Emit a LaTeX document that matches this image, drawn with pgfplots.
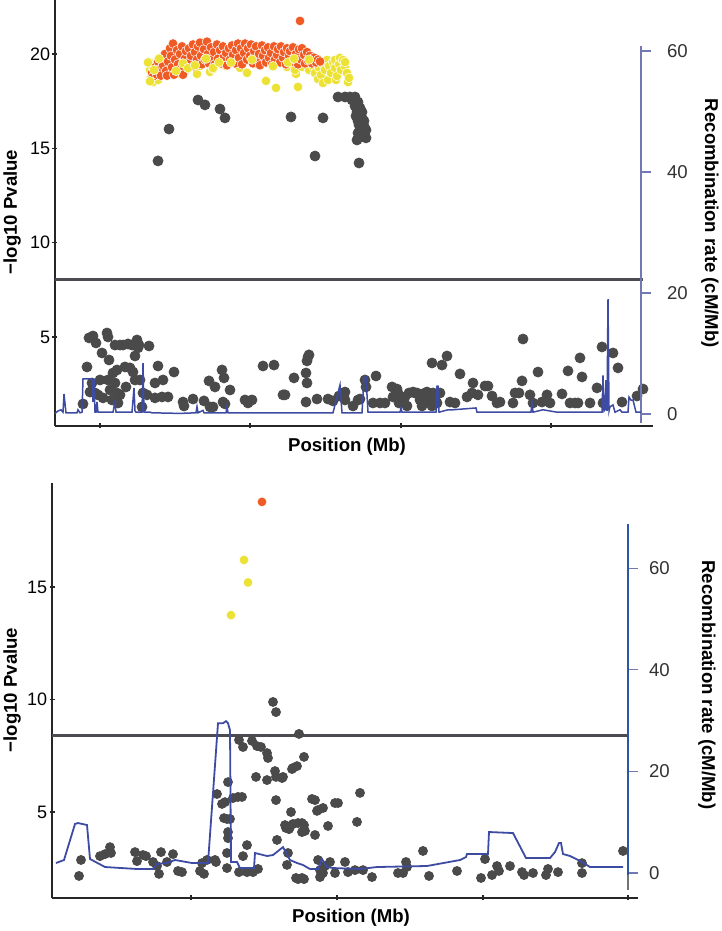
\documentclass[border=0pt]{standalone}
\usepackage{pgfplots}
\pgfplotsset{compat=1.18}
\usepackage{fontspec}
\setmainfont{Liberation Sans}
\definecolor{ptgray}{RGB}{74,74,74}
\definecolor{ptorange}{RGB}{240,90,36}
\definecolor{ptyellow}{RGB}{236,226,54}
\definecolor{recblue}{RGB}{61,75,163}
\definecolor{lav}{RGB}{113,120,179}
\definecolor{axblue}{RGB}{45,85,165}
\definecolor{thresh}{RGB}{75,76,82}
\begin{document}
\begin{tikzpicture}
\path[use as bounding box] (0,0) rectangle (361pt,465.5pt);
\pgfplotsset{
  common/.style={scale only axis, clip=false, /pgf/number format/assume math mode=true, tick align=outside},
  leftax/.style={axis x line=bottom, axis y line=left, axis line style={-, line width=0.7pt, black!85},
     xticklabels={}, major tick length=2.5pt, tick style={black!85, line width=0.6pt},
     yticklabel style={font=\fontsize{9}{10}\selectfont, inner sep=1pt}},
  rightax/.style={axis x line=none, axis y line*=right, axis line style={draw=none},
     ytick={0,20,40,60}, major tick length=5pt,
     yticklabel style={font=\fontsize{9.3}{10}\selectfont, black!80}},
  gdot/.style={only marks, mark=*, color=ptgray, mark size=#1, mark options={draw=none, fill=ptgray}},
  cdot/.style 2 args={only marks, mark=*, color=#1, mark size=#2, mark options={fill=#1, draw=white, line width=0.25pt}},
}
% ================= TOP PANEL =================
\begin{axis}[common, leftax, at={(27.5pt,252.5pt)}, anchor=south west, width=299pt, height=213pt,
  xmin=55, xmax=653, ymin=0.28, ymax=22.86, xtick={100,250,401,551}, ytick={5,10,15,20}]
\addplot[line width=1.5pt, color=thresh] coordinates {(55,8.05) (643,8.05)};
\addplot[gdot=2.5pt] table {
x y
83 1.45
87 3.41
89 4.95
93 5.05
96 4.68
90 2.08
92 2.56
95 2.03
98 1.93
100 2.72
102 4.15
103 1.77
107 5.21
108 5.0
109 3.78
108 2.72
110 2.19
112 1.66
113 3.09
115 4.57
115 2.56
117 3.25
117 2.03
118 1.50
120 4.57
120 1.93
123 4.57
125 3.41
126 2.35
128 4.63
130 3.36
132 4.57
133 3.14
135 2.72
135 3.99
137 4.84
138 4.42
139 4.57
140 2.72
142 1.29
143 2.03
147 1.93
149 4.52
155 2.56
155 1.77
158 3.46
162 1.82
163 2.72
168 1.82
174 3.14
183 1.55
184 1.34
193 1.71
204 1.61
209 2.67
210 1.29
213 1.29
215 2.35
222 3.25
224 2.83
223 1.55
225 1.45
230 2.19
245 1.66
248 1.50
250 1.61
252 1.66
263 3.46
274 3.51
283 1.93
285 1.93
294 2.83
306 3.09
307 3.73
308 3.94
307 2.56
306 1.55
309 4.05
317 1.71
328 1.71
333 1.61
339 1.87
345 2.08
345 1.66
353 1.34
358 1.66
360 1.71
365 2.72
366 2.35
376 2.93
373 1.50
380 1.50
385 1.50
392 2.35
393 1.82
397 2.24
398 2.03
399 1.50
402 1.55
403 1.77
405 1.82
407 1.34
409 2.03
413 2.08
415 2.03
417 2.03
420 1.66
420 1.82
422 1.34
425 2.03
427 2.08
428 1.55
430 1.82
432 3.62
432 1.34
433 2.03
435 1.66
437 1.50
440 2.03
442 3.51
447 3.99
450 1.55
455 1.50
460 3.04
467 1.82
472 2.03
473 2.56
478 1.93
485 2.40
488 2.40
492 1.87
497 1.50
500 1.55
513 1.50
515 2.03
519 2.03
522 2.67
523 4.89
530 1.93
533 1.50
538 3.14
542 1.55
547 1.93
550 1.50
562 1.98
568 3.20
570 1.50
575 1.50
578 1.50
580 3.89
582 2.88
590 1.50
597 2.30
602 4.47
603 1.50
613 4.15
618 3.36
622 1.55
637 1.87
643 2.24
158 14.33
169 16.02
198 17.56
205 17.30
220 17.08
225 16.61
291 16.66
323 16.61
315 14.59
338 17.72
345 17.72
350 17.72
355 17.72
352 17.56
358 17.45
355 17.24
360 17.14
357 16.92
362 16.92
356 16.71
362 16.61
358 16.45
364 16.45
359 16.24
364 16.18
361 16.02
366 15.97
358 15.81
364 15.76
360 15.65
366 15.55
357 15.44
359 14.22
};
\addplot[cdot={ptyellow}{2.4pt}] table {
x y
149 19.57
150 19.15
151 18.73
153 18.51
152 19.36
156 18.94
158 18.62
175 19.36
178 19.05
182 18.89
184 19.47
186 19.15
196 19.79
197 18.94
200 19.36
205 19.57
210 19.05
213 19.20
214 19.68
220 19.47
226 19.36
230 19.52
234 19.57
240 19.26
247 18.99
255 19.47
262 19.57
266 18.57
270 19.47
276 19.68
276 18.20
298 18.25
296 18.94
283 19.57
287 19.31
290 19.79
292 19.47
295 19.15
297 19.89
300 19.57
302 19.31
305 19.79
307 19.47
309 19.15
311 19.68
313 19.36
315 18.99
317 19.57
318 18.67
319 19.26
321 18.89
323 19.47
323 18.46
325 19.15
327 19.68
328 18.62
329 19.36
331 18.99
333 19.57
335 19.26
335 19.68
336 18.62
337 18.83
339 19.47
340 19.79
341 19.15
343 19.68
345 19.36
345 19.57
347 18.99
348 18.51
349 18.73
};
\addplot[cdot={ptorange}{2.4pt}] table {
x y
152 19.0
153 18.8
155 19.3
157 18.9
158 19.6
160 19.2
161 18.85
162 19.8
163 19.4
165 20.0
166 19.1
167 18.85
168 19.6
170 20.3
171 19.9
172 19.3
173 20.55
174 18.9
175 19.7
177 20.2
178 19.45
180 20.0
181 19.2
182 20.4
183 18.9
185 19.75
186 20.15
187 19.4
189 20.3
190 19.6
191 19.9
193 20.5
194 19.35
195 20.1
197 19.7
198 20.4
200 20.6
201 19.9
202 19.45
204 20.25
205 19.7
207 20.65
208 20.0
209 19.5
211 20.35
212 19.8
214 20.1
215 19.45
217 20.5
218 19.75
220 20.2
221 19.5
223 20.4
224 19.85
226 20.05
227 19.4
229 20.3
230 19.7
232 20.45
233 19.95
235 19.5
236 20.2
238 20.55
239 19.8
241 20.3
242 19.45
244 20.05
245 20.55
247 19.7
248 20.3
250 19.9
251 20.5
253 19.5
254 20.15
256 20.4
257 19.75
259 20.0
260 19.4
262 20.45
263 19.9
265 20.2
266 19.55
268 20.35
269 19.8
271 20.05
272 19.45
274 20.4
275 19.7
277 19.95
278 20.25
280 19.55
281 20.4
283 19.8
284 20.1
286 19.45
287 20.3
289 19.9
290 20.15
292 19.6
293 20.35
295 19.85
296 20.0
298 19.45
299 20.25
301 19.7
302 20.3
304 19.95
305 19.5
307 20.1
308 19.65
310 19.9
312 19.5
314 19.8
316 19.55
318 19.7
320 19.6
300 21.75
};
\addplot[cdot={ptyellow}{2.4pt}] table {
x y
148 19.55
150 18.55
154 19.15
159 19.75
176 19.1
183 19.5
188 19.25
195 19.4
206 19.75
213 19.25
219 19.55
231 19.55
247 19.0
252 19.7
273 19.35
288 19.55
294 19.75
309 19.7
};
\end{axis}
\begin{axis}[common, rightax, at={(27.5pt,252.5pt)}, anchor=south west, width=293pt, height=213pt,
  xmin=55, xmax=641, ymin=-1.98, ymax=68.43, tick style={lav, line width=0.6pt},
  yticklabel style={xshift=4.5pt}]
\draw[lav, line width=0.6pt] (axis cs:641,60.8) -- (axis cs:641,-1.5);
\addplot[color=recblue, line width=0.75pt] table {
x y
55 0.1
58 0.5
61 0.7
63 0.3
64 3.3
66 0.2
77 0.2
78 0.7
80 0.2
82 0.3
83 5.8
92 5.8
93 2.0
94 5.8
95 0.3
96 0.3
97 2.0
98 0.3
113 0.3
115 2.0
116 0.3
132 0.3
134 4.3
135 0.5
136 0.3
142 0.3
143 8.4
144 0.3
150 0.3
152 0.2
180 0.1
196 0.2
197 1.2
198 0.2
203 0.6
204 0.2
226 0.2
227 1.2
228 0.2
260 0.2
300 0.2
333 0.2
340 4.8
342 0.2
362 0.2
364 6.1
366 6.1
368 0.3
400 0.3
401 1.0
402 0.3
436 0.3
437 4.6
438 4.6
439 0.3
448 0.7
453 0.7
476 1.0
477 0.3
531 0.3
532 1.8
533 0.3
543 0.7
557 0.3
602 0.3
603 6.4
604 0.5
605 0.7
606 5.6
607 0.5
608 19.0
609 0.5
610 1.2
613 1.5
615 0.3
620 0.7
622 0.3
628 0.3
629 2.8
631 2.3
633 2.3
636 0.3
641 0.3
};
\end{axis}
% ================= BOTTOM PANEL =================
\begin{axis}[common, leftax, at={(26pt,16.5pt)}, anchor=south west, width=293pt, height=207.5pt,
  xmin=52, xmax=638, ymin=1.18, ymax=19.62, xtick={191,337,483,628}, ytick={5,10,15}]
\addplot[line width=1.5pt, color=thresh] coordinates {(52,8.38) (628,8.38)};
\addplot[gdot=2.25pt] table {
x y
81 2.87
79 2.16
100 3.04
105 3.13
110 3.44
111 3.18
135 3.22
137 2.82
143 3.09
146 3.04
153 2.78
157 2.60
161 3.22
159 2.25
167 2.78
173 3.13
178 2.38
182 2.33
200 2.38
204 2.25
202 2.73
207 2.87
215 2.87
216 2.78
217 5.80
222 5.36
225 5.44
224 4.73
228 6.33
227 4.69
230 4.69
228 4.11
228 3.84
227 3.18
227 2.51
233 5.62
238 5.67
242 5.67
243 3.04
247 3.53
239 2.33
247 2.33
253 2.33
258 2.47
239 8.20
243 7.89
252 8.16
257 7.93
261 7.89
267 7.62
268 7.40
256 6.56
267 6.42
275 6.82
276 6.56
276 5.53
273 9.89
276 9.44
282 6.51
283 6.56
291 5.00
292 6.91
293 6.96
297 7.04
299 8.47
304 7.45
285 4.42
286 4.29
290 4.33
293 4.47
298 4.51
302 4.51
304 4.42
289 4.24
288 3.18
287 2.65
277 3.76
302 4.11
305 4.16
315 3.98
312 5.58
315 5.53
317 5.05
318 5.09
323 5.18
328 4.38
318 2.87
320 2.11
323 2.29
296 2.07
298 2.02
302 2.07
304 2.02
320 2.42
325 2.60
330 2.78
335 5.40
338 5.40
345 2.78
335 2.29
348 2.33
355 2.42
357 4.56
360 5.85
363 2.42
372 2.11
398 2.29
403 2.29
406 2.78
407 2.56
423 3.27
429 2.16
457 2.38
481 2.07
485 2.91
492 2.20
497 2.60
499 2.38
510 2.60
522 2.33
524 2.20
533 2.29
546 2.20
548 2.47
558 2.33
582 2.73
582 2.29
623 3.27
};
\addplot[cdot={ptyellow}{2.4pt}] table {
x y
244 16.2
248 15.2
231 13.75
};
\addplot[cdot={ptorange}{2.4pt}] table {
x y
262 18.78
};
\end{axis}
\begin{axis}[common, rightax, at={(26pt,16.5pt)}, anchor=south west, width=288pt, height=207.5pt,
  xmin=52, xmax=628, ymin=-4.92, ymax=76.8, tick style={lav, line width=0.6pt},
  yticklabel style={xshift=2pt}]
\draw[axblue, line width=1.3pt] (axis cs:628,68.7) -- (axis cs:628,-0.4);
\draw[black!55, line width=0.6pt] (axis cs:628,-0.4) -- (axis cs:628,-3.35);
\addplot[color=recblue, line width=0.9pt] table {
x y
56 1.97
64 2.56
75 9.65
78 9.84
87 9.45
90 2.76
105 1.18
137 0.79
153 0.79
157 1.77
167 1.97
175 2.56
192 1.97
208 1.97
218 29.5
223 29.5
226 29.9
228 29.5
230 28.1
231 2.17
237 2.17
240 0.98
254 0.98
255 3.94
267 3.35
273 3.54
283 5.1
290 2.56
297 1.97
303 1.57
310 0.79
318 0.79
322 2.76
327 1.18
333 0.98
360 0.79
377 1.18
427 1.38
460 2.56
466 3.15
467 3.74
488 3.74
489 8.07
513 7.87
526 2.95
550 2.95
555 4.13
559 5.9
561 5.9
563 3.74
570 3.35
582 2.17
590 1.18
623 1.18
};
\end{axis}
% ================= LABELS =================
\begin{scope}[every node/.style={font=\fontsize{9.3}{11}\selectfont\bfseries}]
\node[rotate=90] at (6pt,359.5pt) {−log10 Pvalue};
\node[rotate=90] at (6pt,120.5pt) {−log10 Pvalue};
\node at (173.5pt,242pt) {Position (Mb)};
\node at (175.5pt,6.5pt) {Position (Mb)};
\node[rotate=-90] at (355pt,353.75pt) {Recombination rate (cM/Mb)};
\node[rotate=-90] at (353.5pt,123pt) {Recombination rate (cM/Mb)};
\end{scope}
\end{tikzpicture}
\end{document}
